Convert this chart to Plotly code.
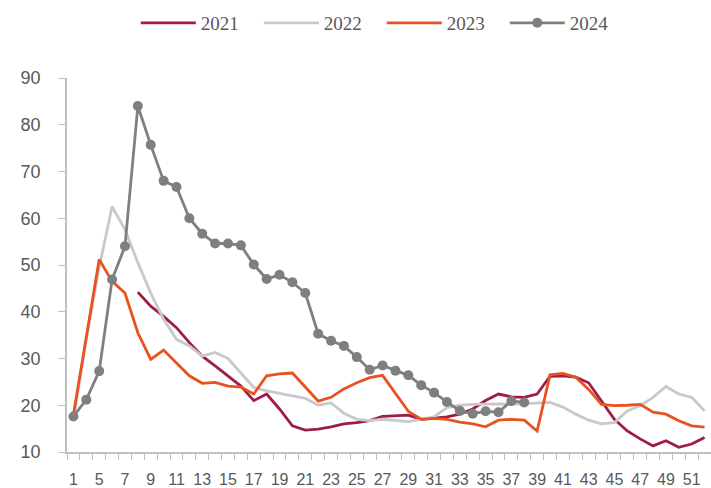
import plotly.graph_objects as go

# Week categories along the x axis (weeks 2-4 are combined into one slot)
weeks = [1, 3] + list(range(5, 53))

y2021 = [None, None, None, None, None,
         44.2, 41.2, 39.0, 36.6, 33.4, 30.5, 28.4, 26.3, 24.1, 21.0,
         22.4, 19.2, 15.6, 14.7, 14.9, 15.4, 16.0, 16.3, 16.7, 17.6,
         17.8, 17.9, 17.0, 17.3, 17.5, 18.1, 19.2, 21.0, 22.4, 21.8,
         21.7, 22.4, 26.2, 26.3, 26.0, 24.8, 20.9, 17.0, 14.5, 12.8,
         11.3, 12.4, 11.0, 11.7, 13.1]

y2022 = [17.0, 34.0, 49.5, 62.5, 57.6, 50.5, 44.0, 38.4, 34.1, 32.7,
         30.5, 31.3, 30.0, 27.0, 23.8, 23.1, 22.5, 22.0, 21.5, 20.0,
         20.5, 18.3, 17.0, 16.7, 17.0, 16.7, 16.5, 17.0, 17.5, 19.5,
         20.0, 20.2, 20.3, 20.3, 20.2, 20.3, 20.5, 20.6, 19.6, 18.1,
         16.8, 16.0, 16.3, 18.8, 19.9, 21.7, 24.0, 22.4, 21.7, 18.8]

y2023 = [18.0, 34.5, 51.2, 46.5, 44.0, 35.5, 29.8, 31.8, 29.1, 26.3,
         24.7, 24.9, 24.1, 23.9, 22.4, 26.3, 26.7, 26.9, 23.9, 20.9,
         21.7, 23.5, 24.8, 25.9, 26.4, 22.6, 18.7, 17.0, 17.2, 17.0,
         16.4, 16.0, 15.4, 16.8, 17.0, 16.8, 14.5, 26.5, 26.8, 26.0,
         23.4, 20.2, 19.9, 20.0, 20.2, 18.5, 18.1, 16.7, 15.6, 15.3]

y2024 = [17.6, 21.2, 27.3, 46.9, 54.0, 84.0, 75.7, 68.0, 66.7, 60.0,
         56.7, 54.6, 54.6, 54.2, 50.1, 47.0, 47.9, 46.3, 44.0, 35.3,
         33.8, 32.7, 30.3, 27.6, 28.5, 27.4, 26.4, 24.3, 22.7, 20.7,
         18.8, 18.2, 18.7, 18.5, 20.9, 20.6]

y_ticks = [10, 20, 30, 40, 50, 60, 70, 80, 90]

idx = list(range(len(weeks)))

fig = go.Figure()
fig.add_trace(go.Scatter(x=idx, y=y2021, name="2021", mode="lines",
                         line=dict(color="#9E1C47", width=2.8)))
fig.add_trace(go.Scatter(x=idx, y=y2022, name="2022", mode="lines",
                         line=dict(color="#C9C9C9", width=2.8)))
fig.add_trace(go.Scatter(x=idx, y=y2023, name="2023", mode="lines",
                         line=dict(color="#E9521E", width=2.8)))
fig.add_trace(go.Scatter(x=idx[:len(y2024)], y=y2024, name="2024",
                         mode="lines+markers",
                         line=dict(color="#7F7F7F", width=2.8),
                         marker=dict(color="#7F7F7F", size=10)))

axis_col = "#BFBFBF"
fig.update_layout(
    width=711, height=488,
    margin=dict(l=67, r=0, t=78, b=34),
    paper_bgcolor="white", plot_bgcolor="white",
    font=dict(family="Liberation Sans, Arial, sans-serif", size=14, color="#595959"),
    showlegend=True,
    legend=dict(orientation="h", xref="container", yref="container",
                x=0.191, xanchor="left", y=0.953, yanchor="middle",
                font=dict(family="Liberation Serif, Times New Roman, serif",
                          size=19, color="#595959"),
                entrywidth=53, entrywidthmode="pixels",
                itemwidth=55, traceorder="normal"),
)
fig.update_xaxes(
    range=[-0.5, 49.5], showgrid=False, zeroline=False,
    showline=True, linecolor=axis_col, linewidth=1.5,
    tickmode="array", tickvals=idx[::2], ticktext=[str(w) for w in weeks[::2]],
    ticks="", ticklabelstandoff=12,
    tickfont=dict(family="Liberation Sans Narrow, Liberation Sans, Arial, sans-serif",
                  size=16, color="#595959"),
    minor=dict(tickmode="linear", tick0=-0.5, dtick=1, ticks="outside",
               ticklen=6, tickcolor=axis_col, tickwidth=1),
)
fig.update_yaxes(
    range=[10, 90], showgrid=False, zeroline=False,
    showline=True, linecolor=axis_col, linewidth=1.5,
    tickmode="array", tickvals=y_ticks, ticks="outside", ticklen=7,
    tickcolor=axis_col, ticklabelstandoff=14,
    tickfont=dict(size=18, color="#595959"),
)

fig.write_html("out.html")
